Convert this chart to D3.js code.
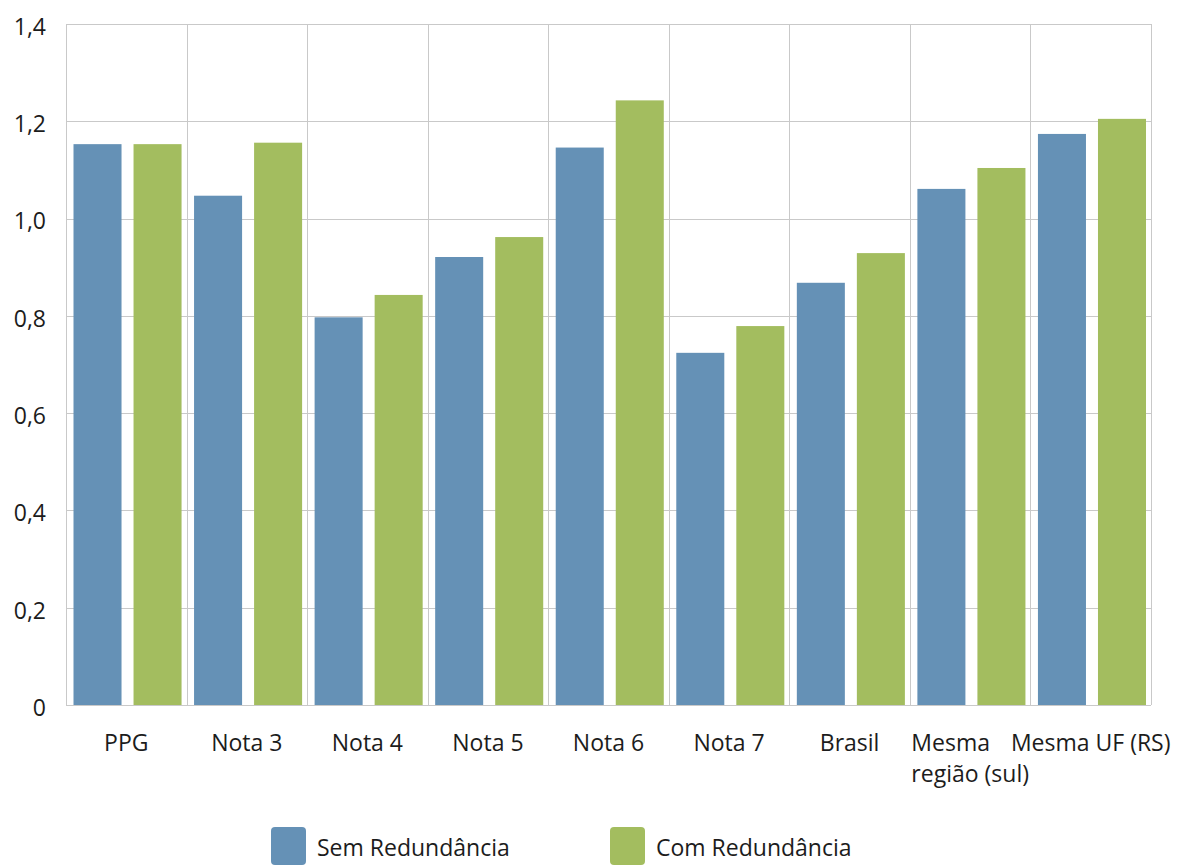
<!DOCTYPE html>
<html>
<head>
<meta charset="utf-8">
<script src="https://cdn.jsdelivr.net/npm/d3@7"></script>
<style>
  html, body { margin: 0; padding: 0; background: #fff; }
  svg { display: block; }
  text { font-family: "Open Sans", "Noto Sans", sans-serif; fill: #1c1c1c; }
</style>
</head>
<body>
<svg id="chart" width="1184" height="868"></svg>
<script>
// Categories and series values
const categories = ["PPG", "Nota 3", "Nota 4", "Nota 5", "Nota 6", "Nota 7", "Brasil", "Mesma\nregião (sul)", "Mesma UF (RS)"];
const seriesNames = ["Sem Redundância", "Com Redundância"];
const semRedundancia = [1.153, 1.047, 0.797, 0.921, 1.146, 0.724, 0.868, 1.061, 1.174];
const comRedundancia = [1.153, 1.156, 0.843, 0.962, 1.243, 0.779, 0.929, 1.104, 1.205];
const yTicks = [0, 0.2, 0.4, 0.6, 0.8, 1.0, 1.2, 1.4];
const colors = ["#6591b6", "#a3bd5f"];

const svg = d3.select("#chart");
const margin = { left: 66, right: 33, top: 24, bottom: 163 };
const W = 1184, H = 868;
const plotW = W - margin.left - margin.right;
const plotH = H - margin.top - margin.bottom;
const fontSize = 23;

const x = d3.scaleBand().domain(d3.range(categories.length)).range([0, plotW]).padding(0);
const xs = d3.scaleBand().domain([0, 1]).range([7.5, x.bandwidth() - 5]).paddingInner(0.2).paddingOuter(0);
const y = d3.scaleLinear().domain([0, 1.4]).range([plotH, 0]);

const g = svg.append("g").attr("transform", `translate(${margin.left},${margin.top})`);

// Horizontal gridlines
g.append("g").selectAll("line").data(yTicks).join("line")
  .attr("x1", 0).attr("x2", plotW)
  .attr("y1", d => Math.round(y(d)) + 0.5).attr("y2", d => Math.round(y(d)) + 0.5)
  .attr("stroke", "#c9c9c9").attr("stroke-width", 1);

// Vertical gridlines at category boundaries
const bounds = d3.range(categories.length + 1).map(i => i * x.step());
g.append("g").selectAll("line").data(bounds).join("line")
  .attr("x1", d => Math.round(d) + 0.5).attr("x2", d => Math.round(d) + 0.5)
  .attr("y1", 0).attr("y2", plotH)
  .attr("stroke", "#c9c9c9").attr("stroke-width", 1);

// Bars
const series = [semRedundancia, comRedundancia];
series.forEach((vals, si) => {
  g.append("g").selectAll("rect").data(vals).join("rect")
    .attr("x", (d, i) => x(i) + xs(si))
    .attr("width", xs.bandwidth())
    .attr("y", d => y(d))
    .attr("height", d => y(0) - y(d))
    .attr("fill", colors[si]);
});

// Y axis labels
const yAxis = d3.axisLeft(y).tickValues(yTicks)
  .tickFormat(d => d === 0 ? "0" : d3.format(".1f")(d).replace(".", ","))
  .tickSize(0).tickPadding(20);
const ya = g.append("g").call(yAxis);
ya.select(".domain").remove();
ya.selectAll("text").attr("font-size", fontSize).attr("font-family", '"Open Sans", sans-serif').attr("fill", "#1c1c1c").attr("dy", "0.45em");

// X axis labels (multi-line labels are centred as a block with left-aligned lines)
const xl = g.append("g");
categories.forEach((c, i) => {
  const lines = c.split("\n");
  const cx = x(i) + x.bandwidth() / 2;
  const t = xl.append("text").attr("font-size", fontSize).attr("y", plotH + 46);
  lines.forEach((ln, li) => {
    t.append("tspan").attr("x", 0).attr("dy", li === 0 ? 0 : 31).text(ln);
  });
  const maxW = d3.max(t.selectAll("tspan").nodes(), n => n.getComputedTextLength());
  if (lines.length > 1) {
    t.attr("text-anchor", "start");
    t.selectAll("tspan").attr("x", cx - maxW / 2);
  } else {
    t.attr("text-anchor", "middle");
    t.selectAll("tspan").attr("x", cx);
  }
});

// Legend
const legend = svg.append("g");
const legendX = [271, 610];
seriesNames.forEach((name, i) => {
  legend.append("rect").attr("x", legendX[i]).attr("y", 827).attr("width", 35).attr("height", 38)
    .attr("rx", 4).attr("fill", colors[i]);
  legend.append("text").attr("x", legendX[i] + 46).attr("y", 856).attr("font-size", fontSize).text(name);
});
</script>
</body>
</html>
